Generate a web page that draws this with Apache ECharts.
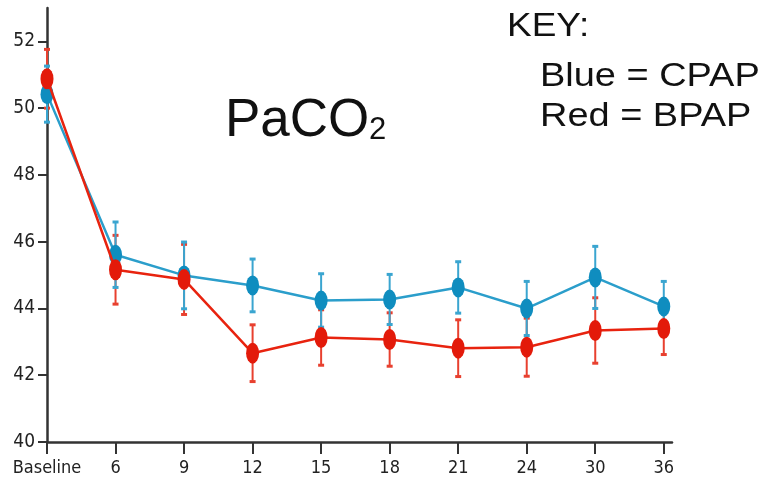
<!DOCTYPE html>
<html>
<head>
<meta charset="utf-8">
<style>
  html, body { margin: 0; padding: 0; background: #ffffff; }
  #chart { width: 768px; height: 487px; }
</style>
<script src="https://cdn.jsdelivr.net/npm/echarts@6/dist/echarts.min.js"></script>
</head>
<body>
<div id="chart"></div>
<script>
// Visit labels along the x axis
const visits = ['Baseline', '6', '9', '12', '15', '18', '21', '24', '30', '36'];

// CPAP (blue): mean PaCO2 and error half-width per visit
const cpapMean = [50.42, 45.61, 44.99, 44.69, 44.24, 44.27, 44.63, 44.00, 44.93, 44.06];
const cpapErr  = [0.84, 0.98, 1.00, 0.79, 0.80, 0.75, 0.77, 0.81, 0.93, 0.75];

// BPAP (red): mean PaCO2 and error half-width per visit
const bpapMean = [50.88, 45.16, 44.87, 42.66, 43.13, 43.07, 42.81, 42.84, 43.34, 43.40];
const bpapErr  = [0.88, 1.03, 1.05, 0.85, 0.83, 0.80, 0.85, 0.87, 0.98, 0.78];

// Y axis tick values
const yTicks = [40, 42, 44, 46, 48, 50, 52];

const BLUE_LINE = '#2b9ecb';
const BLUE_DOT = '#0f8dbf';
const RED_LINE = '#e8230f';
const RED_DOT = '#e31a0a';

const xIdx = visits.map((_, i) => i);
const points = (means) => means.map((m, i) => [i, m]);
const ranges = (means, errs) => means.map((m, i) => [i, m - errs[i], m + errs[i]]);

// Vertical error bar with short caps at both ends
function errorBars(color) {
  return function (params, api) {
    const x = api.value(0);
    const lo = api.coord([x, api.value(1)]);
    const hi = api.coord([x, api.value(2)]);
    const cap = 3;
    return {
      type: 'group',
      children: [
        { type: 'line', shape: { x1: hi[0], y1: hi[1], x2: lo[0], y2: lo[1] }, style: { stroke: color, lineWidth: 2 } },
        { type: 'line', shape: { x1: hi[0] - cap, y1: hi[1], x2: hi[0] + cap, y2: hi[1] }, style: { stroke: color, lineWidth: 3 } },
        { type: 'line', shape: { x1: lo[0] - cap, y1: lo[1], x2: lo[0] + cap, y2: lo[1] }, style: { stroke: color, lineWidth: 3 } }
      ]
    };
  };
}

const axisFont = '"Liberation Sans Narrow", "DejaVu Sans Condensed", "Liberation Sans", sans-serif';
const keyFont = '33px "Liberation Sans", Arial, sans-serif';

const chart = echarts.init(document.getElementById('chart'), null, { renderer: 'canvas' });

chart.setOption({
  animation: false,
  backgroundColor: '#ffffff',
  grid: { left: 47, right: 96, top: 8, bottom: 45, containLabel: false },
  xAxis: {
    type: 'value',
    min: 0,
    max: 9.12,
    splitLine: { show: false },
    axisLine: { show: true, onZero: false, lineStyle: { color: '#333333', width: 2.5 } },
    axisTick: { show: true, customValues: xIdx, length: 12, lineStyle: { color: '#333333', width: 2 } },
    axisLabel: {
      customValues: xIdx,
      formatter: (v) => visits[Math.round(v)],
      margin: 17,
      color: '#222222',
      fontSize: 18,
      fontFamily: axisFont
    }
  },
  yAxis: {
    type: 'value',
    min: 40,
    max: 53,
    splitLine: { show: false },
    axisLine: { show: true, lineStyle: { color: '#333333', width: 2.5 } },
    axisTick: { show: true, customValues: yTicks, length: 9, lineStyle: { color: '#333333', width: 2 } },
    axisLabel: {
      customValues: yTicks,
      margin: 12,
      color: '#222222',
      fontSize: 19,
      fontFamily: axisFont,
      padding: [5, 0, 0, 0]
    }
  },
  series: [
    {
      name: 'BPAP error',
      type: 'custom',
      renderItem: errorBars('#e8402f'),
      data: ranges(bpapMean, bpapErr),
      encode: { x: 0, y: [1, 2] },
      z: 1
    },
    {
      name: 'CPAP error',
      type: 'custom',
      renderItem: errorBars('#3aa5d0'),
      data: ranges(cpapMean, cpapErr),
      encode: { x: 0, y: [1, 2] },
      z: 2
    },
    {
      name: 'CPAP',
      type: 'line',
      data: points(cpapMean),
      symbol: 'circle',
      symbolSize: [13, 20],
      lineStyle: { color: BLUE_LINE, width: 2.5 },
      itemStyle: { color: BLUE_DOT },
      z: 3
    },
    {
      name: 'BPAP',
      type: 'line',
      data: points(bpapMean),
      symbol: 'circle',
      symbolSize: [13, 21],
      lineStyle: { color: RED_LINE, width: 2.5 },
      itemStyle: { color: RED_DOT },
      z: 4
    }
  ],
  graphic: [
    {
      type: 'text', x: 225, y: 121.5,
      style: { text: 'PaCO', fill: '#111111', font: '53px "Liberation Sans", Arial, sans-serif', verticalAlign: 'middle', align: 'left' }
    },
    {
      type: 'text', x: 369, y: 130.5,
      style: { text: '2', fill: '#111111', font: '31px "Liberation Sans", Arial, sans-serif', verticalAlign: 'middle', align: 'left' }
    },
    {
      type: 'text', x: 507, y: 26.5, scaleX: 1.12,
      style: { text: 'KEY:', fill: '#111111', font: keyFont, verticalAlign: 'middle', align: 'left' }
    },
    {
      type: 'text', x: 540, y: 76.5, scaleX: 1.15,
      style: { text: 'Blue = CPAP', fill: '#111111', font: keyFont, verticalAlign: 'middle', align: 'left' }
    },
    {
      type: 'text', x: 540, y: 116.5, scaleX: 1.15,
      style: { text: 'Red = BPAP', fill: '#111111', font: keyFont, verticalAlign: 'middle', align: 'left' }
    }
  ]
});
</script>
</body>
</html>
